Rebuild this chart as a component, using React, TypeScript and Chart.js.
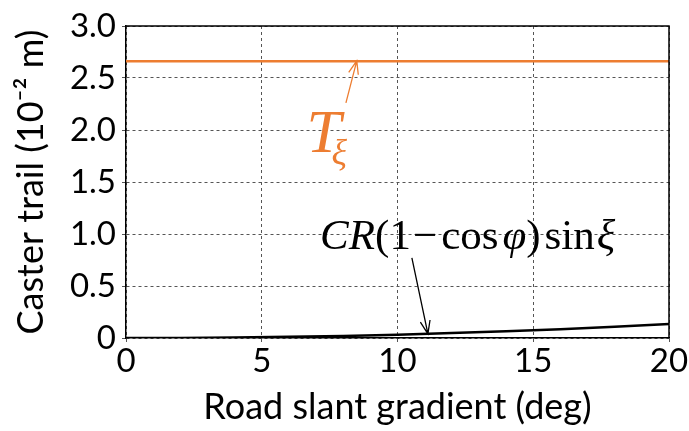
import React, { useEffect, useRef } from "react";
import { Chart, registerables } from "chart.js";

Chart.register(...registerables);

const xValues = [0, 2, 4, 6, 8, 10, 12, 14, 16, 18, 20];
const trailT = [2.66, 2.66, 2.66, 2.66, 2.66, 2.66, 2.66, 2.66, 2.66, 2.66, 2.66];
const trailCR = [0, 0.001, 0.005, 0.011, 0.02, 0.032, 0.047, 0.064, 0.084, 0.107, 0.134];
const yTicks = [0, 0.5, 1.0, 1.5, 2.0, 2.5, 3.0];
const xTicks = [0, 5, 10, 15, 20];

const ORANGE = "#ED7D31";
const FONT = "Lato, 'Open Sans', sans-serif";
const SERIF = "'Liberation Serif', 'DejaVu Serif', serif";

function arrow(ctx: CanvasRenderingContext2D, x1: number, y1: number, x2: number, y2: number, color: string) {
  ctx.save();
  ctx.strokeStyle = color;
  ctx.lineWidth = 1.3;
  ctx.beginPath();
  ctx.moveTo(x1, y1);
  ctx.lineTo(x2, y2);
  const a = Math.atan2(y2 - y1, x2 - x1);
  const L = 14;
  const s = 0.36;
  ctx.moveTo(x2 - L * Math.cos(a - s), y2 - L * Math.sin(a - s));
  ctx.lineTo(x2, y2);
  ctx.lineTo(x2 - L * Math.cos(a + s), y2 - L * Math.sin(a + s));
  ctx.stroke();
  ctx.restore();
}

const annotationPlugin = {
  id: "annots",
  afterDatasetsDraw(chart: any) {
    const { ctx, scales, chartArea } = chart;
    const xs = scales.x;
    const ys = scales.y;
    const px = (v: number) => xs.getPixelForValue(v);
    const py = (v: number) => ys.getPixelForValue(v);
    ctx.save();
    // frame top/right
    ctx.strokeStyle = "#000";
    ctx.lineWidth = 1.5;
    ctx.beginPath();
    ctx.moveTo(chartArea.left, chartArea.top);
    ctx.lineTo(chartArea.right, chartArea.top);
    ctx.lineTo(chartArea.right, chartArea.bottom);
    ctx.stroke();

    // T_xi label
    ctx.fillStyle = ORANGE;
    ctx.textBaseline = "alphabetic";
    ctx.textAlign = "left";
    ctx.font = `italic 62px ${SERIF}`;
    const tx = px(6.65);
    const ty = py(1.79);
    ctx.fillText("T", tx, ty);
    ctx.font = `italic 36px ${SERIF}`;
    ctx.fillText("ξ", tx + 25, ty + 12);
    arrow(ctx, px(8.1), py(2.26), px(8.5), py(2.665), ORANGE);

    // formula
    ctx.fillStyle = "#000";
    let fx = px(7.15);
    const fy = py(0.86);
    const parts: [string, boolean, number][] = [
      ["CR", true, 0],
      ["(1", false, 1],
      ["−", false, 2],
      ["cos", false, 2],
      ["φ", true, 0],
      [")", false, 2],
      ["sin", false, 1],
      ["ξ", true, 0],
    ];
    for (const [t, it, gap] of parts) {
      ctx.font = `${it ? "italic " : ""}43px ${SERIF}`;
      ctx.fillText(t, fx, fy);
      fx += ctx.measureText(t).width + gap * 2;
    }
    arrow(ctx, px(10.53), py(0.77), px(11.12), py(0.04), "#000");
    ctx.restore();
  },
};

export default function App() {
  const ref = useRef<HTMLCanvasElement | null>(null);
  useEffect(() => {
    document.body.style.margin = "0";
    const chart = new Chart(ref.current as HTMLCanvasElement, {
      type: "line",
      data: {
        datasets: [
          {
            data: xValues.map((x, i) => ({ x, y: trailT[i] })),
            borderColor: ORANGE,
            borderWidth: 2.5,
            pointRadius: 0,
          },
          {
            data: xValues.map((x, i) => ({ x, y: trailCR[i] })),
            borderColor: "#000",
            borderWidth: 2.5,
            pointRadius: 0,
          },
        ],
      },
      options: {
        animation: false,
        responsive: false,
        layout: { padding: { left: 0, right: 20, top: 26, bottom: 0 } },
        plugins: { legend: { display: false }, tooltip: { enabled: false } },
        scales: {
          x: {
            type: "linear",
            min: 0,
            max: 20,
            afterBuildTicks: (s: any) => {
              s.ticks = xTicks.map((v) => ({ value: v }));
            },
            afterFit: (s: any) => {
              s.height = 93;
            },
            ticks: { color: "#000", font: { family: FONT, size: 33 }, padding: 0, maxRotation: 0 },
            grid: { color: "#555", lineWidth: 1, tickLength: 4 },
            border: { display: true, color: "#000", width: 1.5, dash: [3, 3] } as any,
            title: {
              display: true,
              text: "Road slant gradient (deg)",
              color: "#000",
              font: { family: FONT, size: 36 },
              padding: { top: 0, bottom: 2 },
            },
          },
          y: {
            type: "linear",
            min: 0,
            max: 3,
            afterBuildTicks: (s: any) => {
              s.ticks = yTicks.map((v) => ({ value: v }));
            },
            afterFit: (s: any) => {
              s.width = 126;
            },
            ticks: {
              color: "#000",
              font: { family: FONT, size: 33 },
              padding: 6,
              callback: (v: any) => (Number(v) === 0 ? "0" : Number(v).toFixed(1)),
            },
            grid: { color: "#555", lineWidth: 1, tickLength: 4 },
            border: { display: true, color: "#000", width: 1.5, dash: [3, 3] } as any,
            title: {
              display: true,
              text: "Caster trail (10⁻² m)",
              color: "#000",
              font: { family: FONT, size: 36 },
              padding: { top: 10, bottom: 0 },
            },
          },
        },
      },
      plugins: [annotationPlugin],
    } as any);
    return () => chart.destroy();
  }, []);
  return (
    <div style={{ width: 689, height: 431 }}>
      <canvas ref={ref} width={689} height={431} />
    </div>
  );
}
